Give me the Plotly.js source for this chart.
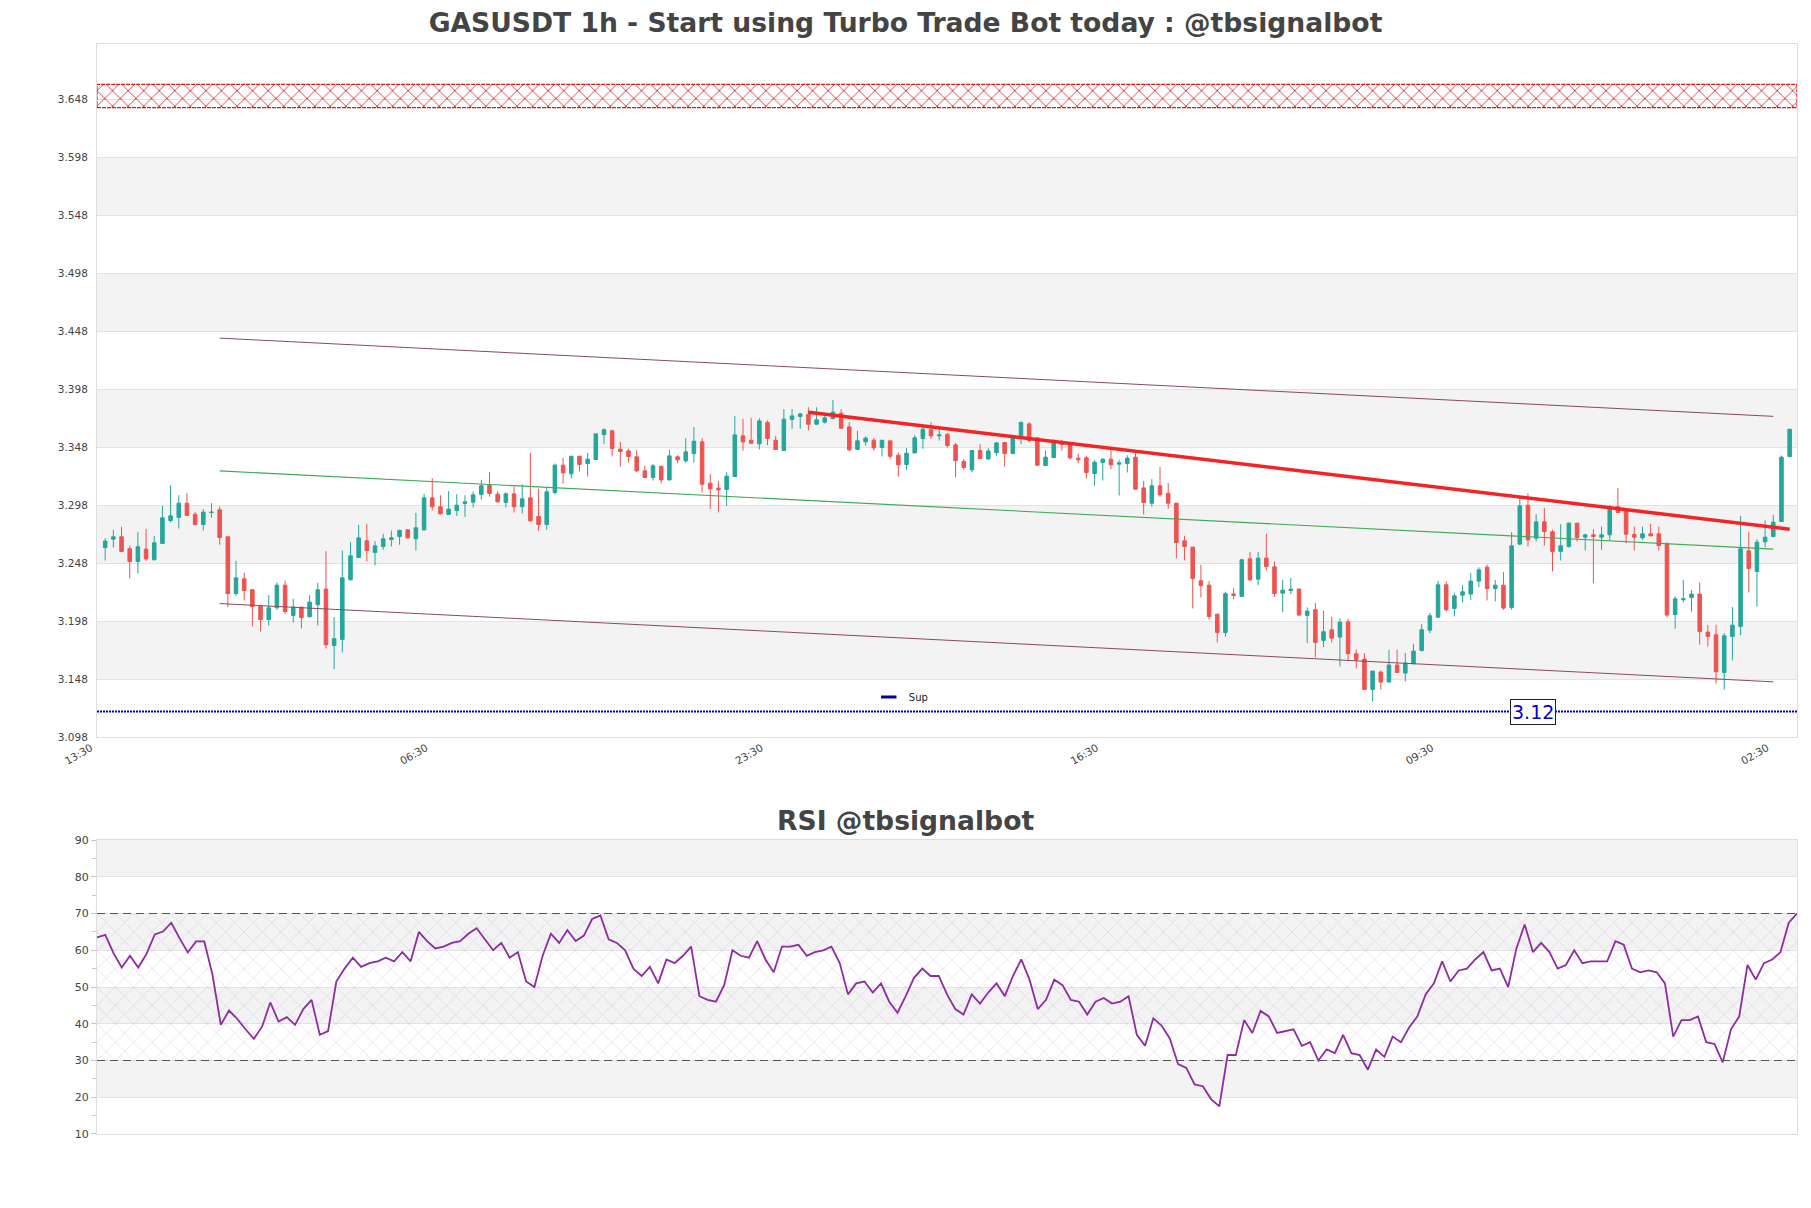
<!DOCTYPE html>
<html>
<head>
<meta charset="utf-8">
<script src="https://cdn.plot.ly/plotly-3.0.1.min.js"></script>
<style>html,body{margin:0;padding:0;background:#fff;}#chart{width:1811px;height:1208px;}</style>
</head>
<body>
<div id="chart"></div>
<script>
// ---------- DATA ----------
const startHour = Date.UTC(2024, 0, 1, 14, 30); // first candle 14:30
const openP = [3.2615,3.2687,3.2707,3.2604,3.2494,3.2601,3.2509,3.2650,3.2848,3.2874,3.2997,3.2902,3.2813,3.2917,3.2940,3.2707,3.2218,3.2345,3.2250,3.2109,3.1994,3.2095,3.2290,3.2029,3.2101,3.2017,3.2121,3.2256,3.1770,3.1822,3.2336,3.2529,3.2672,3.2572,3.2624,3.2684,3.2710,3.2767,3.2690,3.2767,3.3043,3.2966,3.2900,3.2934,3.2994,3.3006,3.3072,3.3150,3.3075,3.3003,3.3078,3.2966,3.3043,3.2882,3.2813,3.3089,3.3325,3.3250,3.3402,3.3339,3.3374,3.3589,3.3621,3.3463,3.3448,3.3397,3.3276,3.3219,3.3316,3.3198,3.3397,3.3362,3.3425,3.3526,3.3170,3.3127,3.3115,3.3227,3.3578,3.3540,3.3509,3.3693,3.3540,3.3451,3.3719,3.3744,3.3762,3.3678,3.3696,3.3727,3.3773,3.3655,3.3460,3.3526,3.3540,3.3477,3.3535,3.3411,3.3331,3.3431,3.3555,3.3630,3.3578,3.3592,3.3500,3.3357,3.3285,3.3451,3.3379,3.3434,3.3520,3.3425,3.3563,3.3681,3.3561,3.3322,3.3391,3.3529,3.3514,3.3385,3.3388,3.3253,3.3348,3.3377,3.3334,3.3339,3.3394,3.3129,3.2997,3.3147,3.3083,3.2997,3.2672,3.2618,3.2328,3.2290,3.2040,3.1882,3.2213,3.2193,3.2517,3.2342,3.2523,3.2448,3.2221,3.2244,3.2256,3.2029,3.2078,3.1813,3.1905,3.1842,3.1974,3.1698,3.1652,3.1391,3.1540,3.1454,3.1601,3.1532,3.1612,3.1727,3.1902,3.2014,3.2293,3.2089,3.2204,3.2213,3.2325,3.2445,3.2261,3.2290,3.2098,3.2644,3.2980,3.2695,3.2836,3.2750,3.2581,3.2624,3.2825,3.2704,3.2724,3.2704,3.2724,3.2966,3.2940,3.2727,3.2698,3.2733,3.2733,3.2644,3.2037,3.2164,3.2184,3.2213,3.1885,3.1862,3.1537,3.1848,3.1934,3.2586,3.2408,3.2664,3.2710,3.2839,3.3400];
const highP = [3.2695,3.2767,3.2793,3.2629,3.2747,3.2776,3.2716,3.2974,3.3152,3.3066,3.3083,3.2923,3.2946,3.2997,3.2969,3.2707,3.2500,3.2397,3.2256,3.2115,3.2204,3.2313,3.2328,3.2172,3.2101,3.2204,3.2310,3.2583,3.2014,3.2589,3.2661,3.2810,3.2819,3.2670,3.2733,3.2762,3.2770,3.2773,3.2914,3.3078,3.3213,3.3066,3.3101,3.3075,3.3066,3.3098,3.3198,3.3267,3.3101,3.3089,3.3141,3.3161,3.3431,3.3121,3.3132,3.3339,3.3388,3.3402,3.3402,3.3431,3.3595,3.3644,3.3630,3.3526,3.3466,3.3454,3.3319,3.3336,3.3316,3.3457,3.3411,3.3558,3.3653,3.3558,3.3247,3.3190,3.3265,3.3750,3.3724,3.3733,3.3730,3.3713,3.3578,3.3808,3.3808,3.3776,3.3825,3.3825,3.3773,3.3888,3.3808,3.3693,3.3621,3.3572,3.3558,3.3540,3.3535,3.3434,3.3471,3.3584,3.3653,3.3696,3.3644,3.3601,3.3517,3.3377,3.3451,3.3506,3.3471,3.3526,3.3526,3.3586,3.3704,3.3698,3.3561,3.3448,3.3543,3.3543,3.3517,3.3425,3.3405,3.3371,3.3385,3.3463,3.3371,3.3411,3.3443,3.3190,3.3204,3.3308,3.3170,3.2997,3.2716,3.2618,3.2466,3.2325,3.2040,3.2233,3.2267,3.2517,3.2575,3.2575,3.2733,3.2494,3.2333,3.2353,3.2264,3.2098,3.2135,3.2069,3.2017,3.2003,3.2000,3.1733,3.1704,3.1549,3.1555,3.1733,3.1733,3.1704,3.1784,3.1954,3.2049,3.2328,3.2322,3.2221,3.2290,3.2394,3.2443,3.2466,3.2333,3.2402,3.2747,3.3060,3.3083,3.2902,3.2957,3.2767,3.2816,3.2831,3.2825,3.2733,3.2773,3.2796,3.2980,3.3129,3.2954,3.2796,3.2796,3.2819,3.2796,3.2661,3.2193,3.2336,3.2250,3.2313,3.1948,3.1948,3.1876,3.2101,3.2888,3.2747,3.2687,3.2848,3.2897,3.3408,3.3635];
const lowP = [3.2503,3.2615,3.2578,3.2348,3.2391,3.2500,3.2503,3.2650,3.2831,3.2779,3.2891,3.2805,3.2762,3.2871,3.2638,3.2101,3.2198,3.2158,3.1934,3.1891,3.1942,3.2078,3.2040,3.1968,3.1917,3.2014,3.1942,3.1744,3.1566,3.1710,3.2330,3.2529,3.2494,3.2460,3.2595,3.2624,3.2638,3.2693,3.2589,3.2762,3.2934,3.2900,3.2897,3.2888,3.2879,3.2960,3.3029,3.3055,3.3003,3.2960,3.2917,3.2908,3.2839,3.2759,3.2767,3.3072,3.3167,3.3210,3.3270,3.3227,3.3374,3.3509,3.3400,3.3313,3.3348,3.3267,3.3219,3.3193,3.3167,3.3193,3.3342,3.3345,3.3348,3.3089,3.2948,3.2917,3.2974,3.3227,3.3451,3.3512,3.3460,3.3497,3.3457,3.3451,3.3638,3.3638,3.3624,3.3673,3.3684,3.3724,3.3638,3.3448,3.3457,3.3494,3.3448,3.3400,3.3379,3.3227,3.3285,3.3428,3.3466,3.3552,3.3538,3.3477,3.3219,3.3285,3.3262,3.3379,3.3371,3.3408,3.3313,3.3423,3.3506,3.3523,3.3322,3.3322,3.3391,3.3451,3.3374,3.3342,3.3210,3.3147,3.3193,3.3290,3.3063,3.3262,3.3118,3.2900,3.2966,3.3052,3.2948,3.2520,3.2503,3.2089,3.2184,3.1994,3.1796,3.1845,3.2167,3.2193,3.2325,3.2290,3.2417,3.2187,3.2057,3.2213,3.2023,3.1790,3.1667,3.1756,3.1796,3.1589,3.1646,3.1572,3.1391,3.1287,3.1391,3.1454,3.1537,3.1460,3.1609,3.1718,3.1876,3.2006,3.2063,3.2020,3.2141,3.2161,3.2273,3.2158,3.2149,3.2078,3.2078,3.2635,3.2624,3.2667,3.2632,3.2408,3.2503,3.2615,3.2667,3.2589,3.2307,3.2595,3.2675,3.2917,3.2652,3.2589,3.2681,3.2710,3.2589,3.2011,3.1914,3.2141,3.2063,3.1776,3.1761,3.1440,3.1388,3.1641,3.1859,3.2227,3.2106,3.2615,3.2704,3.2839,3.3400];
const closeP = [3.2670,3.2707,3.2581,3.2494,3.2621,3.2517,3.2655,3.2871,3.2888,3.2997,3.2891,3.2813,3.2920,3.2920,3.2701,3.2218,3.2353,3.2244,3.2106,3.1994,3.2095,3.2290,3.2063,3.2101,3.2011,3.2144,3.2250,3.1776,3.1828,3.2353,3.2543,3.2698,3.2589,3.2629,3.2690,3.2698,3.2762,3.2698,3.2785,3.3043,3.2966,3.2905,3.2946,3.2980,3.3009,3.3069,3.3147,3.3081,3.3009,3.3078,3.2966,3.3035,3.2845,3.2813,3.3095,3.3325,3.3259,3.3402,3.3331,3.3377,3.3595,3.3630,3.3469,3.3443,3.3400,3.3276,3.3219,3.3319,3.3198,3.3405,3.3371,3.3440,3.3532,3.3161,3.3121,3.3112,3.3230,3.3586,3.3526,3.3514,3.3707,3.3555,3.3460,3.3721,3.3750,3.3767,3.3678,3.3716,3.3733,3.3782,3.3644,3.3457,3.3535,3.3558,3.3474,3.3540,3.3402,3.3328,3.3428,3.3561,3.3635,3.3578,3.3586,3.3494,3.3365,3.3305,3.3451,3.3382,3.3448,3.3517,3.3425,3.3566,3.3693,3.3535,3.3325,3.3394,3.3540,3.3503,3.3388,3.3371,3.3262,3.3351,3.3377,3.3328,3.3345,3.3385,3.3118,3.3003,3.3147,3.3069,3.2997,3.2658,3.2624,3.2348,3.2287,3.2020,3.1882,3.2216,3.2201,3.2509,3.2336,3.2523,3.2451,3.2218,3.2247,3.2256,3.2032,3.2066,3.1796,3.1888,3.1833,3.1971,3.1698,3.1646,3.1391,3.1549,3.1454,3.1601,3.1537,3.1618,3.1721,3.1905,3.2026,3.2293,3.2078,3.2198,3.2233,3.2325,3.2422,3.2261,3.2290,3.2092,3.2629,3.2974,3.2681,3.2836,3.2753,3.2581,3.2629,3.2825,3.2701,3.2724,3.2710,3.2724,3.2966,3.2917,3.2730,3.2704,3.2733,3.2716,3.2632,3.2032,3.2172,3.2172,3.2213,3.1891,3.1848,3.1543,3.1853,3.1945,3.2604,3.2434,3.2661,3.2704,3.2833,3.3394,3.3635];
const rsi = [63.5,64.2,59.2,55.3,58.5,55.3,59.0,64.3,65.1,67.5,63.3,59.4,62.4,62.4,53.3,39.7,43.6,41.3,38.5,35.9,39.2,45.8,40.6,41.8,39.7,
44,46.5,37,38,51.5,55,58,55.5,56.5,57,
58,57,59.5,57,65,62.5,60.5,61,62,62.5,
64.5,66,63,60,62,58,59.5,51.5,50,58.5,
64.5,62,65.5,62.5,64,68.5,69.5,63,62,60,
55,53,55.5,51,57.5,56.5,58.5,61,47.5,46.5,
46,50.5,60,58.5,58,62.5,57.5,54,61,61,
61.5,58.5,59.5,60,61,56.5,48,51,51.5,48.5,
51,46,43,47.5,52.5,55,53,53,48,44,
42.5,48,45.5,48.5,51,47.5,53,57.5,52,44,
46.5,52,50.5,46.5,46,42.5,46,47,45.5,46,
47.5,37,34,41.5,39.5,36,29,28,23.5,23,
19.5,17.5,31.5,31.5,41,37.5,43.5,42,37.5,38,
38.5,34,35,30,33,32,37,32,31.5,27.5,
33,31,36.5,35,39,42,48,51,57,51.5,
54.5,55,57.5,59.5,54.5,55,50,60.5,67,59.5,
62,59.5,55,56,60,56.5,57,57,57,62.5,
61.5,55,54,54.5,54,51,36.5,41,41,42,
35,34.5,29.5,38.5,42,56,52,56.5,57.5,59.5,
67.5,70];
const channelIdx = [14, 204];
const channelUpper = [3.4421, 3.3746];
const channelMid = [3.3276, 3.2601];
const channelLower = [3.2131, 3.1456];
const trendIdx = [86, 206];
const trendVals = [3.3782, 3.2773];
const supLevel = 3.12;
const resistZone = [3.641, 3.661];
const priceTicks = [3.098,3.148,3.198,3.248,3.298,3.348,3.398,3.448,3.498,3.548,3.598,3.648];
const rsiTicks = [10,20,30,40,50,60,70,80,90];
const rsiBands = [30, 70];
const titleText = 'GASUSDT 1h - Start using Turbo Trade Bot today : @tbsignalbot';
const rsiTitle = 'RSI @tbsignalbot';

// ---------- BUILD ----------
const H = 3600000;
const times = openP.map((_, i) => startHour + i * H);
const n = times.length;
const xMain = [startHour - H, startHour + (n - 1 + 0.9) * H];
const xRsi = [times[0], times[n - 1]];
const FONT = 'DejaVu Sans, sans-serif';

const traces = [];
// resistance hatched zone
traces.push({
  type: 'scatter', mode: 'lines', xaxis: 'x', yaxis: 'y',
  x: [xMain[0], xMain[1], xMain[1], xMain[0], xMain[0]],
  y: [resistZone[0], resistZone[0], resistZone[1], resistZone[1], resistZone[0]],
  fill: 'toself', fillcolor: 'rgba(255,255,255,0)',
  fillpattern: {shape: 'x', fgcolor: '#d81818', bgcolor: 'rgba(255,255,255,0)', size: 11, solidity: 0.14},
  line: {color: '#d81818', width: 1.2, dash: '4px,1px'},
  hoverinfo: 'skip', showlegend: false
});
// channel lines
const chX = channelIdx.map(i => startHour + i * H);
traces.push({type:'scatter', mode:'lines', x: chX, y: channelUpper, line:{color:'#8a4a5c', width:1}, showlegend:false, hoverinfo:'skip'});
traces.push({type:'scatter', mode:'lines', x: chX, y: channelMid, line:{color:'#3fa856', width:1.1}, showlegend:false, hoverinfo:'skip'});
traces.push({type:'scatter', mode:'lines', x: chX, y: channelLower, line:{color:'#8a4a5c', width:1}, showlegend:false, hoverinfo:'skip'});
// support line
traces.push({type:'scatter', mode:'lines', x: xMain, y: [supLevel, supLevel], line:{color:'#0000c8', width:2, dash:'2px,1px'}, showlegend:false, hoverinfo:'skip'});
// candles
traces.push({
  type: 'candlestick', xaxis: 'x', yaxis: 'y',
  x: times, open: openP, high: highP, low: lowP, close: closeP,
  increasing: {line: {color: '#26a69a', width: 1}, fillcolor: '#26a69a'},
  decreasing: {line: {color: '#ef5350', width: 1}, fillcolor: '#ef5350'},
  whiskerwidth: 0, showlegend: false, hoverinfo: 'skip'
});
// trend line
const trX = trendIdx.map(i => startHour + i * H);
traces.push({type:'scatter', mode:'lines', x: trX, y: trendVals, line:{color:'rgb(245,35,35)', width:3.5}, showlegend:false, hoverinfo:'skip'});
// legend entry
traces.push({type:'scatter', mode:'markers', x:[null], y:[null], name:'Sup',
  marker:{symbol:'line-ew-open', size:11, color:'#0000a0', line:{width:3, color:'#0000a0'}}, showlegend:true});

// RSI hatched band
traces.push({
  type:'scatter', mode:'lines', xaxis:'x2', yaxis:'y2',
  x:[xRsi[0], xRsi[1], xRsi[1], xRsi[0], xRsi[0]],
  y:[rsiBands[0], rsiBands[0], rsiBands[1], rsiBands[1], rsiBands[0]],
  fill:'toself', fillcolor:'rgba(160,110,200,0.05)',
  fillpattern:{shape:'x', fgcolor:'rgba(185,160,210,0.5)', bgcolor:'rgba(255,255,255,0)', size:13, solidity:0.08},
  line:{width:0}, showlegend:false, hoverinfo:'skip'
});
traces.push({type:'scatter', mode:'lines', xaxis:'x2', yaxis:'y2', x: times, y: rsi,
  line:{color:'#8e2ca2', width:1.8}, showlegend:false, hoverinfo:'skip'});

// ---------- SHAPES ----------
const shapes = [];
for (let k = 0; k < priceTicks.length - 1; k++) {
  if (k % 2 === 1) {
    shapes.push({type:'rect', xref:'paper', yref:'y', x0:0, x1:1, y0:priceTicks[k], y1:priceTicks[k+1],
      fillcolor:'#f3f3f3', line:{width:0}, layer:'below'});
  }
}
for (let k = 0; k < rsiTicks.length - 1; k++) {
  if (k % 2 === 1) {
    shapes.push({type:'rect', xref:'x2 domain', yref:'y2', x0:0, x1:1, y0:rsiTicks[k], y1:rsiTicks[k+1],
      fillcolor:'#f3f3f3', line:{width:0}, layer:'below'});
  }
}
rsiBands.forEach(v => shapes.push({type:'line', xref:'x2 domain', yref:'y2', x0:0, x1:1, y0:v, y1:v,
  line:{color:'#555', width:1.2, dash:'8px,5px'}, layer:'above'}));

const yMainDomain = [0.3642, 1];
const yRsiDomain = [0, 0.2697];

const layout = {
  width: 1811, height: 1208,
  paper_bgcolor: '#ffffff', plot_bgcolor: '#ffffff',
  margin: {l: 97, r: 14, t: 44, b: 74},
  font: {family: FONT, color: '#444', size: 10},
  title: {text: '<b>' + titleText + '</b>', x: 0.5, xref: 'container', y: 0.981, yref: 'container', yanchor: 'middle',
    font: {family: FONT, size: 26.6, color: '#444'}},
  showlegend: true,
  legend: {x: 0.454, y: 0.401, xanchor: 'left', yanchor: 'middle', bgcolor: 'rgba(0,0,0,0)', font: {size: 10, color: '#222'}},
  boxgap: 0.38,
  xaxis: {type: 'date', domain: [0, 1], anchor: 'y', range: xMain,
    tick0: startHour - H, dtick: 41 * H, tickformat: '%H:%M', tickangle: -30,
    tickfont: {size: 10.5, color: '#444'}, showgrid: false, zeroline: false,
    showline: true, mirror: true, linecolor: '#dedede', linewidth: 1,
    ticklabelshift: -6,
    rangeslider: {visible: false}, ticks: ''},
  yaxis: {domain: yMainDomain, anchor: 'x', range: [3.098, 3.6958],
    tickvals: priceTicks, ticktext: priceTicks.map(v => v.toFixed(3)),
    tickfont: {size: 10.5, color: '#444'}, gridcolor: '#e3e3e3', gridwidth: 1, zeroline: false,
    showline: true, mirror: true, linecolor: '#dedede', ticks: '', ticklabelstandoff: 6},
  xaxis2: {type: 'date', domain: [0, 1], anchor: 'y2', range: xRsi, showticklabels: false,
    showgrid: false, zeroline: false, showline: true, mirror: true, linecolor: '#dedede', ticks: ''},
  yaxis2: {domain: yRsiDomain, anchor: 'x2', range: [10, 90], tickvals: rsiTicks,
    tickfont: {size: 11, color: '#444'}, gridcolor: '#e3e3e3', zeroline: false,
    showline: true, mirror: true, linecolor: '#dedede', ticks: 'outside', ticklen: 5, tickcolor: '#c8c8c8',
    minor: {dtick: 5, tick0: 5, ticks: 'outside', ticklen: 4, tickcolor: '#c8c8c8', showgrid: false}},
  shapes: shapes,
  annotations: [
    {text: '<b>' + rsiTitle + '</b>', xref: 'paper', yref: 'paper', x: 0.4756, y: 0.288, xanchor: 'center', yanchor: 'middle',
      showarrow: false, font: {family: FONT, size: 26.6, color: '#444'}},
    {text: String(supLevel), xref: 'paper', yref: 'y', x: 0.8447, y: supLevel, xanchor: 'center', yanchor: 'middle',
      showarrow: false, font: {family: FONT, size: 19, color: '#0000d0'}, bgcolor: '#ffffff',
      bordercolor: '#222', borderwidth: 1, borderpad: 1}
  ]
};

Plotly.newPlot('chart', traces, layout, {staticPlot: true, displayModeBar: false});
</script>
</body>
</html>
